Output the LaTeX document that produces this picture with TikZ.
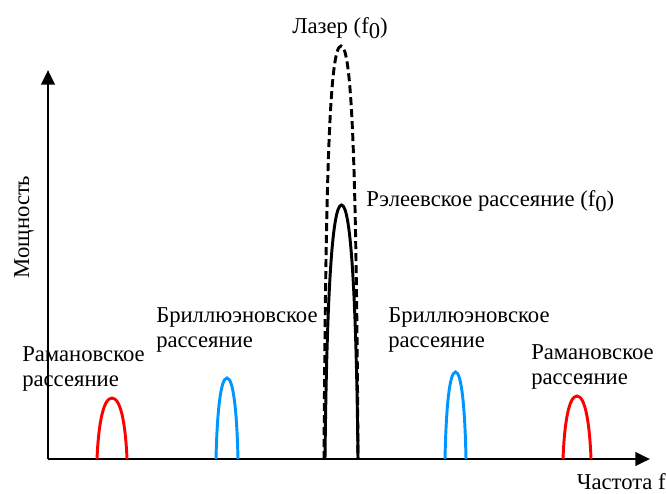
\documentclass[tikz,border=0pt]{standalone}
\usepackage{fontspec}
\setmainfont{Liberation Serif}
\usetikzlibrary{arrows.meta}

\definecolor{brillblue}{RGB}{0,150,255}
\newcommand{\fnull}{f\raisebox{-0.45ex}{0}}
% rounded peak: left base, right base, top, roundness
\newcommand{\bump}[4]{%
  (#1,459) .. controls ({#1+0.1*(#2-#1)/2},{459-#4*(459-#3)}) and ({(#1+#2)/2-#4*(#2-#1)/2},#3) .. ({(#1+#2)/2},#3)
  .. controls ({(#1+#2)/2+#4*(#2-#1)/2},#3) and ({#2-0.1*(#2-#1)/2},{459-#4*(459-#3)}) .. (#2,459)}

\begin{document}
\begin{tikzpicture}[
          x=0.75pt, y=-0.75pt,
          axis/.style={line width=2.2pt, -{Triangle[length=11pt, width=10pt]}},
          peak/.style={line width=2.2pt},
          lbl/.style={font=\fontsize{17}{18.8}\selectfont, align=left, inner sep=0pt},
          laser/.style={peak, dash pattern=on 6pt off 3pt}
      ]
        \useasboundingbox (0,0) rectangle (666,493);
        \coordinate (o) at (48,459);
        \coordinate (ytop) at (48,70);
        \coordinate (xend) at (650,459);
        \draw[axis] (o) -- (ytop);
        \draw[axis] (o) -- (xend);

        % peaks
        \draw[peak, red] \bump{97}{127}{398}{0.58};
        \draw[peak, red] \bump{563}{591}{396}{0.58};
        \draw[peak, brillblue] \bump{216}{238}{378}{0.58};
        \draw[peak, brillblue] \bump{445}{466}{372}{0.58};
        \draw[laser] \bump{324}{358}{46}{0.68};
        \draw[peak] \bump{325}{358}{205}{0.6};

        % labels
        \node[lbl] (laserlbl) at (340,28) {Лазер (\fnull)};
        \node[lbl, anchor=west] (rayleigh) at (366,201) {Рэлеевское рассеяние (\fnull)};
        \node[lbl, anchor=west] (brill1) at (156,330) {Бриллюэновское\\рассеяние};
        \node[lbl, anchor=west] (brill2) at (388,330) {Бриллюэновское\\рассеяние};
        \node[lbl, anchor=west] (raman1) at (22,369) {Рамановское\\рассеяние};
        \node[lbl, anchor=west] (raman2) at (531,367) {Рамановское\\рассеяние};
        \node[lbl, rotate=90] (ylbl) at (24,227) {Мощность};
        \node[lbl, anchor=east] (xlbl) at (666,482) {Частота f};
      \end{tikzpicture}
\end{document}
